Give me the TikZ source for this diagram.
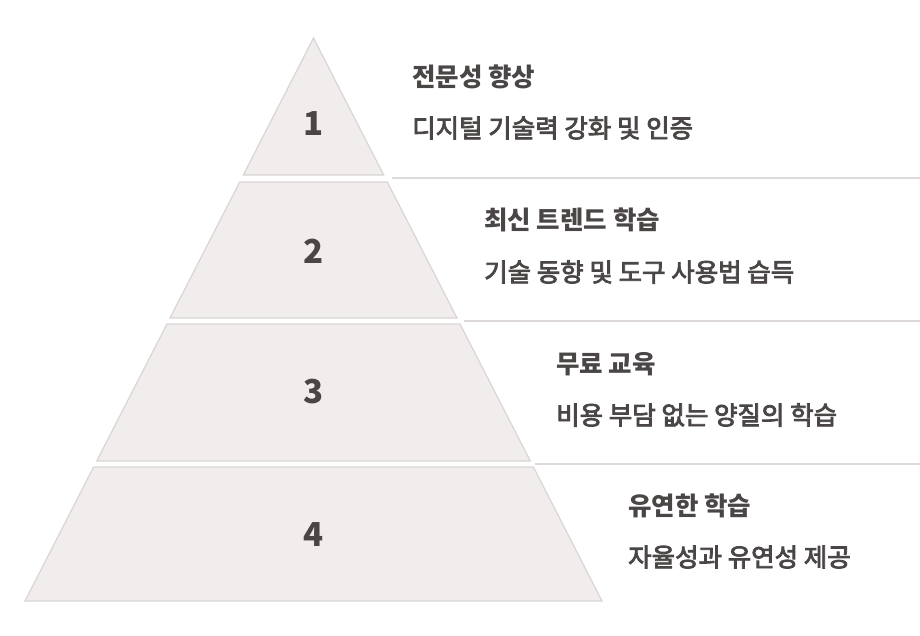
\documentclass[tikz,border=0pt]{standalone}
\usepackage{fontspec}
\newfontfamily\kr{Noto Sans CJK KR}
\newfontfamily\krmed[FakeBold=3.2]{Noto Sans CJK KR}
\definecolor{layerfill}{HTML}{F0EDEC}
\definecolor{layerdraw}{HTML}{D9D5D4}
\definecolor{txt}{HTML}{4A4645}
\definecolor{sep}{HTML}{DCD9D8}
\tikzset{
  layer/.style={fill=layerfill, draw=layerdraw, line width=1.2pt, line join=miter},
  num/.style={font=\kr\bfseries\fontsize{33}{36}\selectfont, text=txt, inner sep=0pt},
  ttl/.style={font=\kr\bfseries\fontsize{25.5}{28}\selectfont, text=txt, inner sep=0pt, anchor=west},
  dsc/.style={font=\krmed\fontsize{25.5}{28}\selectfont, text=txt, inner sep=0pt, anchor=west},
  sepline/.style={draw=sep, line width=1.3pt}
}
\begin{document}
\begin{tikzpicture}[x=1pt,y=-1pt]
\useasboundingbox (0,0) rectangle (920,635);
% layer corners
\coordinate (apex) at (313.5,38);
\coordinate (l1bl) at (243.3,175); \coordinate (l1br) at (383.7,175);
\coordinate (l2tl) at (239.7,182); \coordinate (l2tr) at (387.3,182);
\coordinate (l2bl) at (170,318);   \coordinate (l2br) at (457,318);
\coordinate (l3tl) at (167,324);   \coordinate (l3tr) at (460,324);
\coordinate (l3bl) at (96.7,461);  \coordinate (l3br) at (530.3,461);
\coordinate (l4tl) at (93.6,467);  \coordinate (l4tr) at (533.4,467);
\coordinate (l4bl) at (25,601);    \coordinate (l4br) at (602,601);
% layers
\path[layer] (apex) -- (l1br) -- (l1bl) -- cycle;
\path[layer] (l2tl) -- (l2tr) -- (l2br) -- (l2bl) -- cycle;
\path[layer] (l3tl) -- (l3tr) -- (l3br) -- (l3bl) -- cycle;
\path[layer] (l4tl) -- (l4tr) -- (l4br) -- (l4bl) -- cycle;
% separator lines
\coordinate (s1a) at (391.5,178); \coordinate (s1b) at (920,178);
\coordinate (s2a) at (464,321);   \coordinate (s2b) at (920,321);
\coordinate (s3a) at (535,464);   \coordinate (s3b) at (920,464);
\draw[sepline] (s1a) -- (s1b);
\draw[sepline] (s2a) -- (s2b);
\draw[sepline] (s3a) -- (s3b);
% numbers
\node[num] (n1) at (313.8,124) {1};
\node[num] (n2) at (313.8,251) {2};
\node[num] (n3) at (313.8,392) {3};
\node[num] (n4) at (313.8,535) {4};
% texts
\node[ttl] (t1) at (412,77) {전문성 향상};
\node[dsc] (d1) at (412,128) {디지털 기술력 강화 및 인증};
\node[ttl] (t2) at (484,220) {최신 트렌드 학습};
\node[dsc] (d2) at (484,272) {기술 동향 및 도구 사용법 습득};
\node[ttl] (t3) at (556,364) {무료 교육};
\node[dsc] (d3) at (556,415) {비용 부담 없는 양질의 학습};
\node[ttl] (t4) at (628,506) {유연한 학습};
\node[dsc] (d4) at (628,557) {자율성과 유연성 제공};
\end{tikzpicture}
\end{document}
